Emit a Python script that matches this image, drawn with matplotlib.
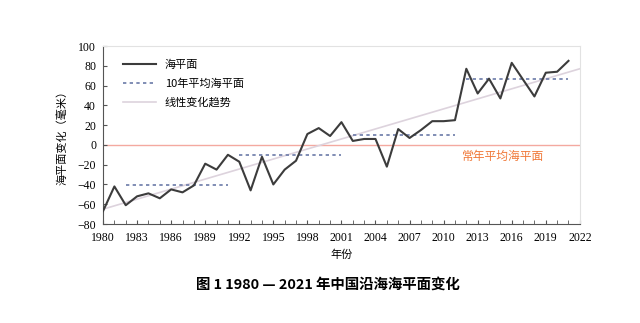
import matplotlib
matplotlib.use('Agg')
import matplotlib.pyplot as plt
from matplotlib.ticker import MultipleLocator

plt.rcParams['font.family'] = ['Noto Sans CJK SC', 'DejaVu Sans']

# annual sea level anomaly (mm), 1980-2021
years = list(range(1980, 2022))
sea_level = [-67, -42, -61, -52, -49, -54, -45, -48, -41, -19,
             -25, -10, -17, -46, -12, -40, -25, -16, 11, 17,
             9, 23, 4, 6, 6, -22, 16, 7, 15, 24,
             24, 25, 77, 52, 67, 47, 83, 66, 49, 73,
             74, 85]

# decade averages
decade_starts = [1982, 1992, 2002, 2012]
decade_ends = [1991, 2001, 2011, 2021]
decade_means = [-41, -10, 10, 67]

# linear trend end points
trend_years = [1980, 2022]
trend_values = [-65, 77]

xticks = list(range(1980, 2023, 3))
yticks = list(range(-80, 101, 20))

fig = plt.figure(figsize=(6.4, 3.23), dpi=100)
ax = fig.add_axes([0.161, 0.3065, 0.745, 0.551])

ax.axhline(0, color='#f4a9a0', lw=1.0, zorder=1)
ax.plot(trend_years, trend_values, color='#ddd3dd', lw=1.2, label='线性变化趋势', zorder=2)
for i, (s, e, m) in enumerate(zip(decade_starts, decade_ends, decade_means)):
    ax.plot([s, e], [m, m], color='#6b7aa8', lw=1.2, ls=(0, (2, 2)),
            label='10年平均海平面' if i == 0 else None, zorder=3)
ax.plot(years, sea_level, color='#3c3c3c', lw=1.5, label='海平面', zorder=4)

ax.text(2015.2, -12, '常年平均海平面', color='#f07838', fontsize=8.5,
        ha='center', va='center')

ax.set_xlim(1980, 2022)
ax.set_ylim(-80, 100)
ax.set_xticks(xticks)
ax.set_yticks(yticks)
ax.xaxis.set_minor_locator(MultipleLocator(1))
ax.tick_params(axis='both', which='both', direction='in', length=3,
               color='#555555', labelsize=8.5)
ax.tick_params(axis='x', pad=6)
ax.tick_params(axis='y', pad=5)
for lab in ax.get_xticklabels() + ax.get_yticklabels():
    lab.set_family('Liberation Serif')

ax.spines['left'].set_color('#555555')
ax.spines['bottom'].set_color('#555555')
ax.spines['top'].set_color('#e2e2e2')
ax.spines['right'].set_color('#e2e2e2')

ax.set_xlabel('年份', fontsize=8, labelpad=4)
ax.set_ylabel('海平面变化（毫米）', fontsize=8, labelpad=7)

handles, labels = ax.get_legend_handles_labels()
order = [labels.index('海平面'), labels.index('10年平均海平面'), labels.index('线性变化趋势')]
ax.legend([handles[i] for i in order], [labels[i] for i in order],
          loc='upper left', bbox_to_anchor=(0.02, 0.98), frameon=False,
          fontsize=8, handlelength=3.0, labelspacing=0.75)

fig.text(0.512, 0.118, '图 1 1980 — 2021 年中国沿海海平面变化', fontsize=10.4,
         fontweight='bold', ha='center', va='center')

fig.savefig('out.png', dpi=100, facecolor='white')
